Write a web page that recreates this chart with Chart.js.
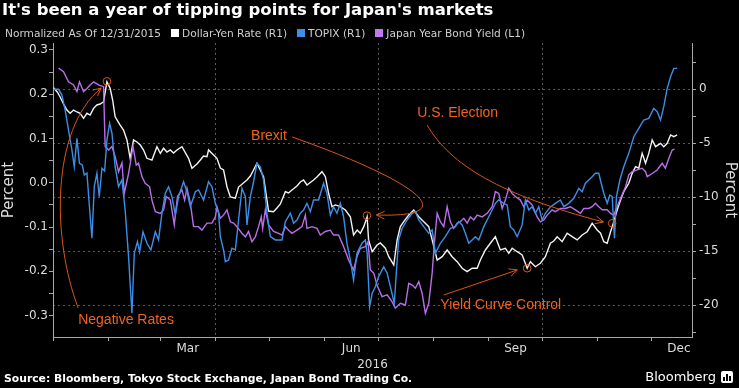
<!DOCTYPE html>
<html>
<head>
<meta charset="utf-8">
<script src="https://cdn.jsdelivr.net/npm/chart.js@4.4.1/dist/chart.umd.min.js"></script>
<style>
   html, body { margin: 0; padding: 0; background: #000; }
   #wrap { position: relative; width: 739px; height: 388px; overflow: hidden; background: #000; }
   #chart { position: absolute; left: 0; top: 0; }
   .title { position: absolute; left: 2px; top: 1px; font: bold 16.5px/18px "DejaVu Sans"; color: #fff; white-space: nowrap; }
   .legend { position: absolute; left: 5px; top: 26px; font: 10.6px/14px "DejaVu Sans"; color: #d0d0d0; white-space: nowrap; }
   .legend .sw { display: inline-block; width: 8px; height: 8px; margin: 0 3px 0 10px; }
   .source { position: absolute; left: 4px; top: 372px; font: bold 10.8px/14px "DejaVu Sans"; color: #fff; white-space: nowrap; }
   .brand { position: absolute; right: 23px; top: 369px; font: 13px/16px "DejaVu Sans"; color: #fff; }
   .logo { position: absolute; left: 721px; top: 371px; width: 12px; height: 12px; background: #fff; border-radius: 2px; }
   .logo i { position: absolute; bottom: 2px; width: 2px; background: #000; }
</style>
</head>
<body>
<div id="wrap">
   <canvas id="chart" width="739" height="388"></canvas>
   <div class="title">It's been a year of tipping points for Japan's markets</div>
   <div class="legend">Normalized As Of 12/31/2015<span class="sw" style="background:#ffffff"></span>Dollar-Yen Rate (R1)<span class="sw" style="background:#3d8ee8"></span>TOPIX (R1)<span class="sw" style="background:#c07af0"></span>Japan Year Bond Yield (L1)</div>
   <div class="source">Source: Bloomberg, Tokyo Stock Exchange, Japan Bond Trading Co.</div>
   <div class="brand">Bloomberg</div>
   <div class="logo"><i style="left:2px;height:4px"></i><i style="left:5px;height:7px"></i><i style="left:8px;height:5px"></i></div>
</div>
<script>
// days counted from 1 Jan 2016
const yenDays = [
   0.3, 2.4, 4.0, 5.9, 7.8, 9.6, 11.5, 13.4, 15.2, 17.1,
   19.0, 20.8, 22.7, 24.6, 26.4, 28.3, 30.2, 32.0, 33.4, 34.8,
   37.6, 39.5, 41.4, 43.2, 45.1, 47.0, 48.9, 50.7, 52.6, 55.4,
   58.2, 60.1, 61.9, 63.8, 65.7, 67.5, 69.4, 72.2, 75.9, 77.8,
   80.6, 82.5, 84.3, 86.2, 87.1, 89.9, 91.8, 93.7, 95.5, 97.4,
   99.3, 102.1, 103.9, 108.6, 110.5, 112.3, 114.2, 117.9, 120.7, 123.5,
   125.4, 127.3, 130.1, 131.9, 133.8, 136.6, 138.5, 140.3, 142.2, 145.9,
   147.8, 150.6, 152.5, 154.3, 156.2, 158.1, 160.9, 163.7, 166.5, 168.3,
   170.3, 172.1, 174.0, 175.9, 176.7, 178.7, 181.5, 183.3, 186.1, 188.0,
   190.8, 192.7, 194.5, 196.4, 199.2, 202.0, 204.8, 207.6, 210.4, 212.3,
   215.1, 217.9, 220.7, 223.5, 226.3, 229.1, 231.9, 234.7, 237.5, 239.3,
   242.1, 244.9, 247.7, 250.5, 253.3, 255.2, 257.1, 259.9, 262.7, 265.5,
   267.3, 270.1, 272.9, 275.7, 278.5, 280.4, 282.3, 285.1, 287.9, 290.7,
   293.5, 296.3, 299.1, 301.9, 304.7, 306.6, 308.4, 310.3, 312.2, 314.0,
   315.9, 317.8, 319.6, 322.4, 324.3, 326.2, 328.0, 329.9, 331.8, 333.6,
   335.5, 337.4, 340.2, 342.0, 343.9, 345.8, 347.6, 349.5
];
const yenValues = [
   0.15, -0.25, -0.71, -1.36, -1.92, -2.22, -1.92, -2.10, -2.22, -2.69,
   -2.22, -2.38, -1.76, -1.45, -1.36, -1.15, 0.70, 0.09, -0.99, -2.54,
   -3.31, -3.77, -4.69, -6.39, -4.69, -4.88, -5.16, -5.62, -6.39, -6.55,
   -5.31, -5.93, -5.46, -5.81, -5.62, -5.90, -5.62, -5.31, -6.39, -7.31,
   -6.92, -6.55, -6.18, -6.24, -5.62, -6.08, -6.39, -7.29, -7.47, -9.02,
   -9.97, -10.09, -9.05, -8.40, -8.03, -7.47, -6.85, -8.09, -11.27, -11.33,
   -10.99, -10.62, -9.48, -9.60, -9.32, -8.95, -8.58, -8.40, -8.86, -8.40,
   -8.12, -7.63, -8.09, -9.63, -10.87, -10.71, -10.87, -11.18, -11.80, -13.49,
   -13.03, -13.33, -12.72, -11.80, -13.95, -15.04, -14.42, -14.23, -14.72, -15.50,
   -16.27, -13.95, -12.72, -12.26, -11.64, -11.18, -11.80, -12.26, -12.72, -13.95,
   -15.81, -15.50, -14.88, -15.50, -15.96, -16.57, -16.89, -16.57, -16.57, -15.81,
   -14.88, -14.26, -13.65, -14.88, -14.72, -15.19, -14.72, -15.04, -15.34, -16.57,
   -15.96, -16.43, -16.11, -15.50, -14.26, -14.05, -13.65, -14.11, -13.33, -13.65,
   -13.95, -13.49, -13.19, -12.41, -13.03, -13.33, -14.11, -14.26, -13.19, -12.26,
   -11.18, -10.25, -9.48, -8.70, -7.78, -7.17, -7.31, -5.93, -6.85, -5.93,
   -4.69, -5.31, -5.00, -5.31, -5.00, -4.23, -4.39, -4.23
];

const topixDays = [
   0.3, 3.1, 5.0, 6.8, 8.7, 10.6, 11.9, 13.4, 14.8, 16.4,
   17.5, 19.0, 20.4, 21.8, 23.1, 24.6, 25.9, 27.4, 28.9, 30.2,
   31.7, 33.0, 34.8, 36.7, 38.6, 40.4, 42.3, 44.2, 45.5, 47.3,
   48.5, 50.4, 52.6, 54.8, 57.3, 59.1, 61.0, 62.9, 64.7, 66.6,
   68.5, 70.3, 73.1, 75.0, 76.9, 79.7, 81.5, 84.3, 87.1, 89.0,
   90.9, 92.7, 93.7, 95.5, 96.5, 98.3, 100.2, 102.1, 103.9, 105.8,
   107.7, 108.6, 110.5, 112.3, 114.2, 116.1, 117.9, 119.8, 121.7, 124.5,
   128.2, 130.1, 132.9, 134.7, 136.6, 138.5, 140.3, 142.2, 144.1, 145.9,
   148.7, 151.5, 153.4, 155.3, 157.1, 159.0, 160.9, 162.7, 164.6, 166.5,
   168.3, 170.2, 173.0, 174.9, 175.9, 177.3, 178.7, 180.5, 182.3, 185.2,
   187.1, 188.9, 191.1, 193.5, 195.5, 198.3, 201.1, 202.9, 204.8, 207.6,
   210.4, 212.3, 214.1, 216.9, 219.7, 222.5, 225.3, 227.2, 229.1, 230.9,
   232.8, 234.7, 236.5, 238.4, 241.2, 244.0, 245.9, 247.7, 249.6, 252.4,
   254.3, 256.1, 258.0, 259.9, 262.7, 264.5, 266.4, 268.3, 270.1, 272.0,
   273.9, 275.7, 278.5, 281.3, 284.1, 286.0, 288.8, 291.6, 294.4, 296.3,
   298.1, 300.0, 301.9, 303.7, 305.6, 306.5, 308.4, 310.3, 311.8, 313.1,
   314.4, 315.5, 317.4, 319.6, 322.4, 325.2, 328.0, 330.8, 333.6, 336.4,
   338.3, 340.2, 342.0, 343.9, 345.8, 347.6, 349.5
];
const topixValues = [
   0, 0, -0.53, -1.92, -3.77, -5.62, -7.17, -4.54, -6.85, -7.01,
   -7.94, -7.75, -10.87, -13.80, -9.02, -7.78, -9.94, -7.31, -7.56, -4.69,
   -3.15, -4.05, -7.17, -9.02, -8.40, -11.18, -15.50, -20.74, -15.19, -14.11,
   -15.04, -13.19, -14.26, -14.88, -13.19, -13.95, -11.48, -9.63, -9.02, -9.94,
   -11.64, -9.94, -8.56, -9.48, -10.87, -9.48, -9.32, -10.25, -8.56, -9.02,
   -10.56, -11.48, -13.65, -14.88, -15.96, -15.81, -14.72, -14.88, -12.10, -9.17,
   -9.94, -12.56, -9.94, -8.56, -6.85, -7.17, -8.40, -11.48, -13.65, -13.95,
   -13.95, -12.26, -11.48, -12.41, -12.10, -11.48, -11.18, -10.56, -11.33, -10.25,
   -10.25, -8.70, -9.63, -11.64, -10.87, -11.48, -10.56, -11.80, -14.26, -15.81,
   -17.66, -15.19, -14.26, -13.95, -15.19, -20.13, -18.89, -18.28, -17.35, -16.43,
   -17.04, -18.28, -19.81, -13.95, -12.87, -12.10, -11.48, -11.33, -12.10, -12.72,
   -13.33, -13.03, -15.19, -14.26, -13.65, -12.87, -12.72, -12.26, -12.56, -13.33,
   -14.26, -13.95, -13.65, -13.95, -12.72, -11.80, -11.18, -10.56, -10.25, -10.56,
   -10.71, -12.72, -13.03, -13.65, -12.56, -10.25, -11.18, -10.87, -11.48, -10.87,
   -12.10, -11.48, -10.89, -10.56, -10.25, -10.87, -10.56, -10.09, -9.17, -9.48,
   -8.70, -8.40, -8.09, -7.78, -7.78, -8.40, -9.63, -10.56, -9.79, -9.94,
   -13.80, -9.94, -8.40, -7.17, -5.93, -4.39, -3.61, -2.84, -2.69, -1.76,
   -2.07, -2.84, -1.61, 0.09, 1.17, 1.94, 1.94
];

const bondDays = [
   3.1, 5.9, 8.7, 11.5, 13.4, 14.8, 17.1, 19.0, 20.8, 22.7,
   25.5, 28.3, 29.2, 31.1, 33.0, 34.8, 36.7, 38.6, 39.9, 42.3,
   44.8, 46.6, 47.9, 49.8, 51.6, 54.1, 55.4, 57.3, 60.1, 61.9,
   63.4, 65.7, 67.9, 69.7, 72.2, 73.7, 75.0, 76.9, 78.7, 81.5,
   83.4, 86.2, 89.0, 90.9, 91.8, 93.7, 95.5, 97.4, 99.3, 101.1,
   103.0, 105.8, 107.7, 109.5, 111.4, 113.3, 115.1, 116.6, 117.4, 118.9,
   120.7, 123.5, 126.3, 128.2, 130.1, 131.9, 133.8, 136.6, 139.4, 141.3,
   142.2, 145.0, 147.8, 149.7, 152.5, 155.3, 157.1, 159.9, 162.7, 165.5,
   168.3, 170.2, 172.1, 174.9, 176.4, 177.7, 179.6, 181.4, 184.2, 187.1,
   189.9, 191.7, 194.5, 197.3, 199.2, 201.1, 202.9, 204.8, 206.7, 208.5,
   210.4, 212.3, 213.7, 215.1, 216.9, 218.8, 220.7, 222.5, 224.4, 226.3,
   228.1, 230.0, 231.9, 233.7, 235.6, 237.5, 240.3, 243.1, 245.9, 247.7,
   249.6, 251.5, 253.3, 255.2, 257.1, 258.9, 261.7, 263.6, 265.5, 268.3,
   271.1, 272.9, 274.8, 276.7, 279.5, 281.3, 284.1, 286.9, 289.7, 292.5,
   295.3, 297.2, 300.0, 301.9, 303.7, 305.6, 307.5, 310.3, 312.2, 314.0,
   315.9, 317.8, 320.6, 322.4, 324.3, 327.1, 329.9, 331.8, 332.7, 335.5,
   338.3, 341.1, 342.9, 344.8, 346.7, 348.0
];
const bondValues = [
   0.259, 0.251, 0.228, 0.221, 0.206, 0.228, 0.206, 0.213, 0.221, 0.228,
   0.221, 0.217, 0.082, 0.074, 0.082, 0.059, 0.025, 0.045, -0.024, 0.021,
   0.082, 0.040, 0.044, 0.014, -0.001, -0.009, -0.039, -0.065, -0.069, -0.061,
   -0.031, -0.039, -0.095, -0.031, -0.016, -0.039, -0.012, -0.046, -0.099, -0.099,
   -0.107, -0.091, -0.091, -0.077, -0.054, -0.080, -0.073, -0.061, -0.088, -0.091,
   -0.099, -0.114, -0.122, -0.110, -0.133, -0.122, -0.099, -0.077, -0.103, -0.061,
   -0.095, -0.110, -0.114, -0.118, -0.099, -0.107, -0.114, -0.107, -0.099, -0.073,
   -0.103, -0.099, -0.103, -0.118, -0.110, -0.107, -0.118, -0.118, -0.144, -0.174,
   -0.197, -0.167, -0.148, -0.144, -0.133, -0.197, -0.204, -0.231, -0.257, -0.253,
   -0.269, -0.283, -0.272, -0.276, -0.227, -0.231, -0.238, -0.223, -0.250, -0.295,
   -0.272, -0.204, -0.129, -0.069, -0.088, -0.099, -0.054, -0.088, -0.103, -0.091,
   -0.088, -0.080, -0.091, -0.077, -0.084, -0.073, -0.077, -0.069, -0.054, -0.020,
   -0.024, -0.058, -0.039, -0.012, -0.024, -0.031, -0.039, -0.054, -0.039, -0.050,
   -0.077, -0.088, -0.084, -0.073, -0.061, -0.065, -0.058, -0.058, -0.054, -0.061,
   -0.069, -0.058, -0.058, -0.054, -0.046, -0.054, -0.061, -0.061, -0.069, -0.073,
   -0.054, -0.035, -0.009, 0.018, 0.025, 0.029, 0.033, 0.025, 0.014, 0.021,
   0.029, 0.044, 0.033, 0.055, 0.074, 0.076
];

// axis ticks
const monthStartDays = [0, 31, 60, 91, 121, 152, 182, 213, 244, 274, 305, 335];
const quarterDays = [91, 182, 274];
const monthLabelDays = [75.5, 167, 259, 350.5];
const monthLabels = ["Mar", "Jun", "Sep", "Dec"];
const leftTicks = [0.3, 0.25, 0.2, 0.15, 0.1, 0.05, 0, -0.05, -0.1, -0.15, -0.2, -0.25, -0.3];
const rightTicks = [2.5, 0, -2.5, -5, -7.5, -10, -12.5, -15, -17.5, -20, -22.5];

// notes, in (day, right-axis value)
const annotations = [
   { text: "Negative Rates", label: [14.1, -21.34], path: [[14.1, -20.25], [-0.4, -13.95], [-1.6, -3.77], [27.0, 0.12]], circle: [30.2, 0.74] },
   { text: "Brexit", label: [110.9, -4.32], path: [[134.0, -4.42], [194.5, -7.94], [236.5, -11.92], [181.1, -11.64]], circle: [175.8, -11.70] },
   { text: "U.S. Election", label: [203.9, -2.22], path: [[209.5, -3.31], [222.5, -7.01], [250.5, -9.79], [308.2, -12.29]], circle: [313.1, -12.41] },
   { text: "Yield Curve Control", label: [216.9, -19.97], path: [[218.8, -19.05], [260.0, -16.73]], circle: [265.5, -16.57] }
];

const axisColor = "#a8a8a8";
const gridColor = "#5a5a5a";
const labelColor = "#dcdcdc";
const noteLineColor = "#d9561a";
const noteTextColor = "#f0631f";

function toPoints(days, values)
{
   return days.map(function(d, i)
   {
      return { x: d, y: values[i] };
   });
}

const annotationPlugin =
{
   id: "notes",
   afterDatasetsDraw(chart)
   {
      const ctx = chart.ctx;
      const xs = chart.scales.x;
      const ys = chart.scales.yRight;
      const px = function(p)
      {
         return [xs.getPixelForValue(p[0]), ys.getPixelForValue(p[1])];
      };

      ctx.save();
      annotations.forEach(function(note)
      {
         const pts = note.path.map(px);
         ctx.strokeStyle = noteLineColor;
         ctx.lineWidth = 1;
         ctx.beginPath();
         ctx.moveTo(pts[0][0], pts[0][1]);
         if (pts.length === 4)
         {
            ctx.bezierCurveTo(pts[1][0], pts[1][1], pts[2][0], pts[2][1], pts[3][0], pts[3][1]);
         }
         else
         {
            ctx.lineTo(pts[1][0], pts[1][1]);
         }
         ctx.stroke();

         // open arrow head
         const tip = pts[pts.length - 1];
         const from = pts[pts.length - 2];
         const a = Math.atan2(tip[1] - from[1], tip[0] - from[0]);
         ctx.beginPath();
         ctx.moveTo(tip[0] - 9 * Math.cos(a - 0.45), tip[1] - 9 * Math.sin(a - 0.45));
         ctx.lineTo(tip[0], tip[1]);
         ctx.lineTo(tip[0] - 9 * Math.cos(a + 0.45), tip[1] - 9 * Math.sin(a + 0.45));
         ctx.stroke();

         const c = px(note.circle);
         ctx.beginPath();
         ctx.arc(c[0], c[1], 3.8, 0, Math.PI * 2);
         ctx.stroke();

         const t = px(note.label);
         ctx.fillStyle = noteTextColor;
         ctx.font = "14px 'Liberation Sans'";
         ctx.textBaseline = "middle";
         ctx.textAlign = "left";
         ctx.fillText(note.text, t[0], t[1]);
      });
      ctx.restore();
   }
};

Chart.defaults.font.family = "'DejaVu Sans'";

const chart = new Chart(document.getElementById("chart").getContext("2d"),
{
   type: "line",
   data:
   {
      datasets: [
         {
            label: "TOPIX (R1)",
            data: toPoints(topixDays, topixValues),
            yAxisID: "yRight",
            borderColor: "#3d8ee8",
            borderWidth: 1.4,
            pointRadius: 0,
            tension: 0,
         },
         {
            label: "Japan Year Bond Yield (L1)",
            data: toPoints(bondDays, bondValues),
            yAxisID: "yLeft",
            borderColor: "#b96ee9",
            borderWidth: 1.4,
            pointRadius: 0,
            tension: 0,
         },
         {
            label: "Dollar-Yen Rate (R1)",
            data: toPoints(yenDays, yenValues),
            yAxisID: "yRight",
            borderColor: "#f4f4f4",
            borderWidth: 1.4,
            pointRadius: 0,
            tension: 0,
         },
      ],
   },
   options:
   {
      responsive: false,
      animation: false,
      devicePixelRatio: 1,
      layout: { padding: { top: 43, left: 0, right: 0, bottom: 0 } },
      plugins: { legend: { display: false }, tooltip: { enabled: false } },
      scales:
      {
         x:
         {
            type: "linear",
            min: 0,
            max: 357.8,
            afterBuildTicks: function(scale)
            {
               scale.ticks = monthStartDays.concat(monthLabelDays).sort(function(a, b) { return a - b; }).map(function(v) { return { value: v }; });
            },
            afterFit: function(scale) { scale.height = 51; },
            ticks:
            {
               autoSkip: false,
               maxRotation: 0,
               padding: 1,
               color: labelColor,
               font: { size: 12 },
               callback: function(value)
               {
                  const i = monthLabelDays.indexOf(value);
                  return i >= 0 ? monthLabels[i] : "";
               },
            },
            grid:
            {
               color: function(ctx) { return ctx.tick && quarterDays.includes(ctx.tick.value) ? gridColor : "rgba(0,0,0,0)"; },
               tickColor: function(ctx) { return ctx.tick && monthStartDays.includes(ctx.tick.value) ? axisColor : "rgba(0,0,0,0)"; },
               tickLength: 4,
               tickBorderDash: [],
            },
            border: { color: axisColor, dash: [2, 3] },
            title: { display: true, text: "2016", color: labelColor, font: { size: 12 }, padding: { top: 0, bottom: 16 } },
         },
         yLeft:
         {
            type: "linear",
            position: "left",
            min: -0.3482,
            max: 0.3157,
            afterBuildTicks: function(scale) { scale.ticks = leftTicks.map(function(v) { return { value: v }; }); },
            afterFit: function(scale) { scale.width = 53; },
            ticks:
            {
               autoSkip: false,
               padding: 1,
               color: labelColor,
               font: { size: 12 },
               callback: function(value) { return Math.round(value * 100) % 10 === 0 ? value.toFixed(1) : ""; },
            },
            grid: { drawOnChartArea: false, color: axisColor, tickColor: axisColor, tickLength: 4 },
            border: { color: axisColor },
            title: { display: true, text: "Percent", color: labelColor, font: { size: 15 }, padding: 0 },
         },
         yRight:
         {
            type: "linear",
            position: "right",
            min: -22.94,
            max: 4.29,
            afterBuildTicks: function(scale) { scale.ticks = rightTicks.map(function(v) { return { value: v }; }); },
            afterFit: function(scale) { scale.width = 47; },
            ticks:
            {
               autoSkip: false,
               padding: 3,
               color: labelColor,
               font: { size: 12 },
               callback: function(value) { return value % 5 === 0 ? String(value) : ""; },
            },
            grid:
            {
               color: function(ctx) { return ctx.tick && ctx.tick.value % 5 === 0 ? gridColor : "rgba(0,0,0,0)"; },
               tickColor: axisColor,
               tickLength: 4,
               tickBorderDash: [],
            },
            border: { color: axisColor, dash: [2, 3] },
            title: { display: true, text: "Percent", color: labelColor, font: { size: 15 }, padding: 0 },
         },
      },
   },
   plugins: [annotationPlugin],
});
</script>
</body>
</html>
